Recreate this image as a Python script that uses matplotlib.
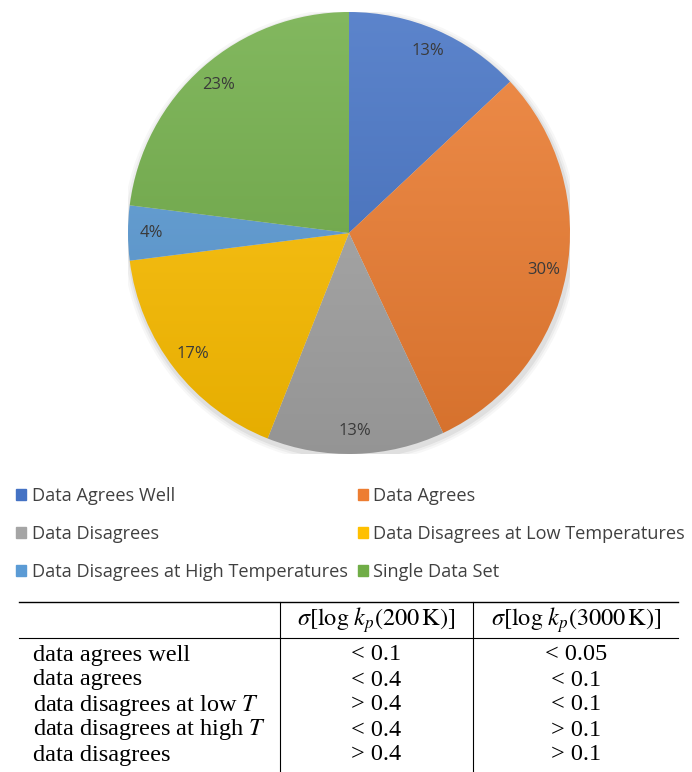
import numpy as np
import matplotlib
matplotlib.use("Agg")
import matplotlib.pyplot as plt
import matplotlib.colors as mcolors
from matplotlib.patches import Rectangle, Circle

# pie data
categories = [
    "Data Agrees Well", "Data Agrees", "Data Disagrees",
    "Data Disagrees at Low Temperatures",
    "Data Disagrees at High Temperatures", "Single Data Set",
]
shares = [13, 30, 13, 17, 4, 23]
colors = ["#4472C4", "#ED7D31", "#A5A5A5", "#FFC000", "#5B9BD5", "#70AD47"]

# table data
col_headers = [r"$\sigma[\log\,k_p(200\,\mathrm{K})]$",
               r"$\sigma[\log\,k_p(3000\,\mathrm{K})]$"]
row_labels = ["data agrees well", "data agrees", "data disagrees at low $T$",
              "data disagrees at high $T$", "data disagrees"]
col_200 = ["< 0.1", "< 0.4", "> 0.4", "< 0.4", "> 0.4"]
col_3000 = ["< 0.05", "< 0.1", "< 0.1", "> 0.1", "> 0.1"]

plt.rcParams["mathtext.fontset"] = "stix"

W, H = 692, 772
fig = plt.figure(figsize=(W / 100, H / 100), dpi=100)

# ---- pie ----
ax = fig.add_axes([128 / W, (H - 454) / H, 442 / W, 442 / H])
ax.set_aspect("equal")

# soft shadow
for r, a in [(1.03, 0.03), (1.02, 0.04), (1.01, 0.06)]:
    ax.add_patch(Circle((0.006, -0.014), r, color="black", alpha=a, lw=0, zorder=0))

wedges, texts, autotexts = ax.pie(
    shares, colors=colors, startangle=90, counterclock=False,
    autopct="%d%%", pctdistance=0.895, radius=1,
    wedgeprops=dict(linewidth=0),
    textprops=dict(family="Open Sans", fontsize=12, color="#3a3a3a"),
)

# vertical gradient (Excel style) on each wedge
for w, c in zip(wedges, colors):
    base = np.array(mcolors.to_rgb(c))
    top = base + (1 - base) * 0.13
    bot = base * 0.90
    t = np.linspace(0, 1, 256)[:, None]
    grad = top[None, :] * (1 - t) + bot[None, :] * t
    img = np.repeat(grad[:, None, :], 2, axis=1)
    im = ax.imshow(img, extent=[-1, 1, -1, 1], origin="upper",
                   aspect="auto", zorder=1, interpolation="bilinear")
    im.set_clip_path(w)
    w.set_facecolor("none")
for txt in autotexts:
    txt.set_zorder(3)

ax.set_xlim(-1.0, 1.0)
ax.set_ylim(-1.0, 1.0)
ax.axis("off")

# ---- legend ----
handles = [Rectangle((0, 0), 1, 1, color=c) for c in colors]
order = [0, 2, 4, 1, 3, 5]
fig.legend([handles[i] for i in order], [categories[i] for i in order],
           ncol=2, loc="upper left", bbox_to_anchor=(9 / W, 1 - 480 / H),
           frameon=False, prop=dict(family="Open Sans", size=13.1),
           labelcolor="#404040", handlelength=0.55, handleheight=0.55,
           handletextpad=0.3, columnspacing=0.55, labelspacing=1.1,
           borderaxespad=0)

# ---- table ----
tax = fig.add_axes([0, 0, 1, (H - 595) / H])
tax.set_xlim(0, W)
tax.set_ylim(H, 595)
tax.axis("off")

tax.plot([19, 678], [602, 602], color="black", lw=1.0)
tax.plot([19, 678], [637.5, 637.5], color="black", lw=0.8)
for x in [280, 473]:
    tax.plot([x, x], [602, H], color="black", lw=0.8)

tfont = dict(family="Liberation Serif", fontsize=17.5, color="black")
tax.text(376, 620, col_headers[0], ha="center", va="center", **tfont)
tax.text(576, 620, col_headers[1], ha="center", va="center", **tfont)
row_y = [655, 680, 705, 730, 755]
for y, lab, a, b in zip(row_y, row_labels, col_200, col_3000):
    tax.text(33, y, lab, ha="left", va="center", **tfont)
    tax.text(376, y, a, ha="center", va="center", **tfont)
    tax.text(576, y, b, ha="center", va="center", **tfont)

fig.savefig("out.png", dpi=100, facecolor="white")
